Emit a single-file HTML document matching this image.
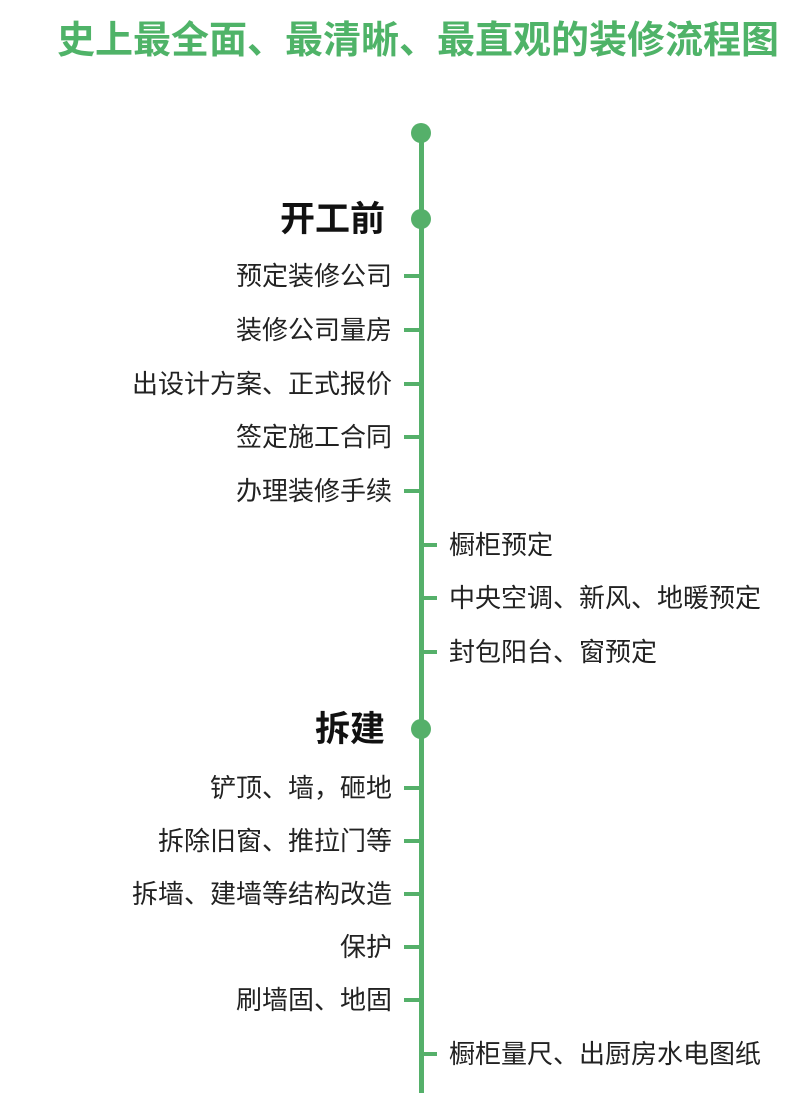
<!DOCTYPE html>
<html><head><meta charset="utf-8"><style>
body{margin:0;width:810px;height:1080px;background:#fff;position:relative;overflow:hidden;font-family:"Liberation Sans","Noto Sans CJK SC",sans-serif;}
.t{position:absolute;left:57px;top:18px;font-size:38px;font-weight:bold;color:#4fb368;white-space:nowrap;line-height:46px;}
.line{position:absolute;left:419px;top:133px;width:5px;height:960px;background:#55b06a;}
.dot{position:absolute;left:411px;width:20px;height:20px;border-radius:50%;background:#55b06a;}
.l{position:absolute;right:418px;font-size:26px;color:#222;line-height:30px;white-space:nowrap;}
.r{position:absolute;left:449px;font-size:26px;color:#222;line-height:30px;white-space:nowrap;}
.h{position:absolute;right:425px;font-size:35px;font-weight:bold;color:#111;line-height:40px;}
.tl{position:absolute;left:404px;width:16px;height:4px;background:#55b06a;}
.tr{position:absolute;left:423px;width:14px;height:4px;background:#55b06a;}
</style></head><body>
<div class="t">史上最全面、最清晰、最直观的装修流程图</div>
<div class="line"></div>
<div class="dot" style="top:123px"></div>
<div class="dot" style="top:209px"></div>
<div class="dot" style="top:719px"></div>
<div class="h" style="top:200px">开工前</div>
<div class="h" style="top:710px">拆建</div>

<div class="l" style="top:261px">预定装修公司</div><div class="tl" style="top:274px"></div>
<div class="l" style="top:315px">装修公司量房</div><div class="tl" style="top:328px"></div>
<div class="l" style="top:369px">出设计方案、正式报价</div><div class="tl" style="top:382px"></div>
<div class="l" style="top:422px">签定施工合同</div><div class="tl" style="top:435px"></div>
<div class="l" style="top:476px">办理装修手续</div><div class="tl" style="top:489px"></div>
<div class="r" style="top:530px">橱柜预定</div><div class="tr" style="top:543px"></div>
<div class="r" style="top:583px">中央空调、新风、地暖预定</div><div class="tr" style="top:596px"></div>
<div class="r" style="top:637px">封包阳台、窗预定</div><div class="tr" style="top:650px"></div>

<div class="l" style="top:773px">铲顶、墙，砸地</div><div class="tl" style="top:786px"></div>
<div class="l" style="top:826px">拆除旧窗、推拉门等</div><div class="tl" style="top:839px"></div>
<div class="l" style="top:879px">拆墙、建墙等结构改造</div><div class="tl" style="top:892px"></div>
<div class="l" style="top:932px">保护</div><div class="tl" style="top:945px"></div>
<div class="l" style="top:985px">刷墙固、地固</div><div class="tl" style="top:998px"></div>
<div class="r" style="top:1039px">橱柜量尺、出厨房水电图纸</div><div class="tr" style="top:1052px"></div>
</body></html>
